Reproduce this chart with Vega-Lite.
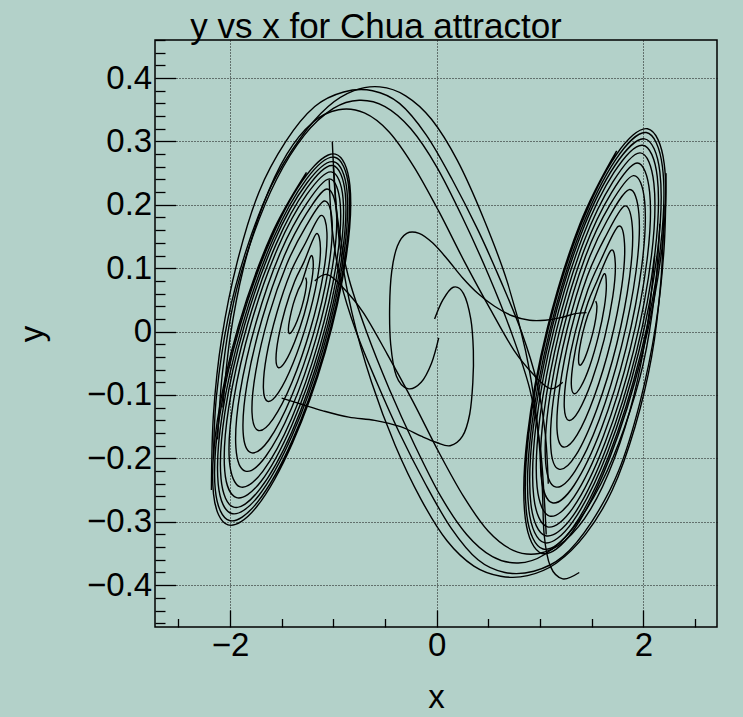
{
"$schema": "https://vega.github.io/schema/vega-lite/v6.json",
"width": 562, "height": 587,
"autosize": {"type": "none"},
"padding": {"left": 155, "top": 40, "right": 26, "bottom": 90},
"background": "#b3d1c9",
"title": {"text": "y vs x for Chua attractor", "font": "Liberation Sans", "fontSize": 35, "fontWeight": "normal", "color": "#000", "anchor": "middle", "baseline": "alphabetic", "offset": -49, "dx": -60},
"config": {"view": {"stroke": "#000", "strokeWidth": 1.5}},
"datasets": {"pts": [
{"s":"L","i":0,"x":-1.269,"y":0.085},{"s":"L","i":1,"x":-1.259,"y":0.078},{"s":"L","i":2,"x":-1.272,"y":0.061},{"s":"L","i":3,"x":-1.305,"y":0.039},{"s":"L","i":4,"x":-1.35,"y":0.017},{"s":"L","i":5,"x":-1.394,"y":0.002},{"s":"L","i":6,"x":-1.425,"y":-0.003},{"s":"L","i":7,"x":-1.435,"y":0.004},{"s":"L","i":8,"x":-1.422,"y":0.02},{"s":"L","i":9,"x":-1.389,"y":0.043},{"s":"L","i":10,"x":-1.344,"y":0.064},{"s":"L","i":11,"x":-1.3,"y":0.08},
{"s":"L","i":12,"x":-1.218,"y":0.119},{"s":"L","i":13,"x":-1.194,"y":0.105},{"s":"L","i":14,"x":-1.218,"y":0.072},{"s":"L","i":15,"x":-1.283,"y":0.027},{"s":"L","i":16,"x":-1.374,"y":-0.016},{"s":"L","i":17,"x":-1.464,"y":-0.047},{"s":"L","i":18,"x":-1.53,"y":-0.057},{"s":"L","i":19,"x":-1.555,"y":-0.043},{"s":"L","i":20,"x":-1.531,"y":-0.009},{"s":"L","i":21,"x":-1.465,"y":0.036},{"s":"L","i":22,"x":-1.375,"y":0.079},{"s":"L","i":23,"x":-1.284,"y":0.11},
{"s":"L","i":24,"x":-1.167,"y":0.154},{"s":"L","i":25,"x":-1.125,"y":0.132},{"s":"L","i":26,"x":-1.156,"y":0.082},{"s":"L","i":27,"x":-1.254,"y":0.015},{"s":"L","i":28,"x":-1.39,"y":-0.05},{"s":"L","i":29,"x":-1.53,"y":-0.096},{"s":"L","i":30,"x":-1.635,"y":-0.11},{"s":"L","i":31,"x":-1.677,"y":-0.089},{"s":"L","i":32,"x":-1.646,"y":-0.038},{"s":"L","i":33,"x":-1.548,"y":0.029},{"s":"L","i":34,"x":-1.412,"y":0.094},{"s":"L","i":35,"x":-1.272,"y":0.139},
{"s":"L","i":36,"x":-1.123,"y":0.183},{"s":"L","i":37,"x":-1.062,"y":0.156},{"s":"L","i":38,"x":-1.098,"y":0.09},{"s":"L","i":39,"x":-1.222,"y":0.004},{"s":"L","i":40,"x":-1.4,"y":-0.08},{"s":"L","i":41,"x":-1.584,"y":-0.138},{"s":"L","i":42,"x":-1.726,"y":-0.156},{"s":"L","i":43,"x":-1.787,"y":-0.128},{"s":"L","i":44,"x":-1.751,"y":-0.063},{"s":"L","i":45,"x":-1.627,"y":0.024},{"s":"L","i":46,"x":-1.449,"y":0.107},{"s":"L","i":47,"x":-1.265,"y":0.166},
{"s":"L","i":48,"x":-1.089,"y":0.206},{"s":"L","i":49,"x":-1.012,"y":0.174},{"s":"L","i":50,"x":-1.05,"y":0.097},{"s":"L","i":51,"x":-1.193,"y":-0.004},{"s":"L","i":52,"x":-1.404,"y":-0.102},{"s":"L","i":53,"x":-1.624,"y":-0.171},{"s":"L","i":54,"x":-1.796,"y":-0.191},{"s":"L","i":55,"x":-1.873,"y":-0.159},{"s":"L","i":56,"x":-1.835,"y":-0.082},{"s":"L","i":57,"x":-1.691,"y":0.019},{"s":"L","i":58,"x":-1.481,"y":0.117},{"s":"L","i":59,"x":-1.261,"y":0.186},
{"s":"L","i":60,"x":-1.062,"y":0.225},{"s":"L","i":61,"x":-0.97,"y":0.188},{"s":"L","i":62,"x":-1.009,"y":0.102},{"s":"L","i":63,"x":-1.168,"y":-0.011},{"s":"L","i":64,"x":-1.405,"y":-0.121},{"s":"L","i":65,"x":-1.655,"y":-0.197},{"s":"L","i":66,"x":-1.852,"y":-0.22},{"s":"L","i":67,"x":-1.943,"y":-0.183},{"s":"L","i":68,"x":-1.904,"y":-0.097},{"s":"L","i":69,"x":-1.745,"y":0.016},{"s":"L","i":70,"x":-1.509,"y":0.126},{"s":"L","i":71,"x":-1.259,"y":0.202},
{"s":"L","i":72,"x":-1.038,"y":0.241},{"s":"L","i":73,"x":-0.933,"y":0.201},{"s":"L","i":74,"x":-0.972,"y":0.106},{"s":"L","i":75,"x":-1.145,"y":-0.017},{"s":"L","i":76,"x":-1.404,"y":-0.137},{"s":"L","i":77,"x":-1.681,"y":-0.22},{"s":"L","i":78,"x":-1.901,"y":-0.245},{"s":"L","i":79,"x":-2.006,"y":-0.204},{"s":"L","i":80,"x":-1.967,"y":-0.11},{"s":"L","i":81,"x":-1.794,"y":0.014},{"s":"L","i":82,"x":-1.535,"y":0.133},{"s":"L","i":83,"x":-1.258,"y":0.216},
{"s":"L","i":84,"x":-1.021,"y":0.252},{"s":"L","i":85,"x":-0.906,"y":0.21},{"s":"L","i":86,"x":-0.945,"y":0.109},{"s":"L","i":87,"x":-1.127,"y":-0.022},{"s":"L","i":88,"x":-1.403,"y":-0.148},{"s":"L","i":89,"x":-1.699,"y":-0.236},{"s":"L","i":90,"x":-1.936,"y":-0.262},{"s":"L","i":91,"x":-2.051,"y":-0.22},{"s":"L","i":92,"x":-2.012,"y":-0.119},{"s":"L","i":93,"x":-1.83,"y":0.012},{"s":"L","i":94,"x":-1.554,"y":0.138},{"s":"L","i":95,"x":-1.258,"y":0.226},
{"s":"L","i":96,"x":-1.007,"y":0.262},{"s":"L","i":97,"x":-0.884,"y":0.217},{"s":"L","i":98,"x":-0.923,"y":0.112},{"s":"L","i":99,"x":-1.112,"y":-0.025},{"s":"L","i":100,"x":-1.401,"y":-0.158},{"s":"L","i":101,"x":-1.713,"y":-0.249},{"s":"L","i":102,"x":-1.964,"y":-0.277},{"s":"L","i":103,"x":-2.087,"y":-0.232},{"s":"L","i":104,"x":-2.049,"y":-0.127},{"s":"L","i":105,"x":-1.86,"y":0.01},{"s":"L","i":106,"x":-1.57,"y":0.143},{"s":"L","i":107,"x":-1.258,"y":0.234},
{"s":"L","i":108,"x":-0.997,"y":0.268},{"s":"L","i":109,"x":-0.868,"y":0.222},{"s":"L","i":110,"x":-0.905,"y":0.114},{"s":"L","i":111,"x":-1.1,"y":-0.028},{"s":"L","i":112,"x":-1.399,"y":-0.164},{"s":"L","i":113,"x":-1.723,"y":-0.259},{"s":"L","i":114,"x":-1.985,"y":-0.287},{"s":"L","i":115,"x":-2.114,"y":-0.241},{"s":"L","i":116,"x":-2.077,"y":-0.132},{"s":"L","i":117,"x":-1.882,"y":0.009},{"s":"L","i":118,"x":-1.583,"y":0.146},{"s":"L","i":119,"x":-1.259,"y":0.241},
{"s":"L","i":120,"x":-0.987,"y":0.275},{"s":"L","i":121,"x":-0.851,"y":0.227},{"s":"L","i":122,"x":-0.888,"y":0.115},{"s":"L","i":123,"x":-1.088,"y":-0.031},{"s":"L","i":124,"x":-1.398,"y":-0.172},{"s":"L","i":125,"x":-1.734,"y":-0.269},{"s":"L","i":126,"x":-2.006,"y":-0.298},{"s":"L","i":127,"x":-2.142,"y":-0.25},{"s":"L","i":128,"x":-2.105,"y":-0.138},{"s":"L","i":129,"x":-1.905,"y":0.008},{"s":"L","i":130,"x":-1.595,"y":0.149},{"s":"L","i":131,"x":-1.259,"y":0.247},
{"s":"L","i":132,"x":-0.98,"y":0.28},{"s":"L","i":133,"x":-0.84,"y":0.231},{"s":"L","i":134,"x":-0.876,"y":0.117},{"s":"L","i":135,"x":-1.08,"y":-0.033},{"s":"L","i":136,"x":-1.396,"y":-0.176},{"s":"L","i":137,"x":-1.74,"y":-0.276},{"s":"L","i":138,"x":-2.02,"y":-0.305},{"s":"L","i":139,"x":-2.16,"y":-0.256},{"s":"L","i":140,"x":-2.124,"y":-0.142},{"s":"L","i":141,"x":-1.92,"y":0.008},{"s":"L","i":142,"x":-1.604,"y":0.151},{"s":"L","i":143,"x":-1.26,"y":0.251},
{"s":"R","i":0,"x":1.539,"y":0.048},{"s":"R","i":1,"x":1.551,"y":0.04},{"s":"R","i":2,"x":1.54,"y":0.021},{"s":"R","i":3,"x":1.508,"y":-0.004},{"s":"R","i":4,"x":1.463,"y":-0.029},{"s":"R","i":5,"x":1.419,"y":-0.047},{"s":"R","i":6,"x":1.386,"y":-0.053},{"s":"R","i":7,"x":1.373,"y":-0.045},{"s":"R","i":8,"x":1.384,"y":-0.026},{"s":"R","i":9,"x":1.417,"y":0.0},{"s":"R","i":10,"x":1.461,"y":0.025},{"s":"R","i":11,"x":1.505,"y":0.042},
{"s":"R","i":12,"x":1.615,"y":0.09},{"s":"R","i":13,"x":1.642,"y":0.075},{"s":"R","i":14,"x":1.623,"y":0.039},{"s":"R","i":15,"x":1.564,"y":-0.008},{"s":"R","i":16,"x":1.48,"y":-0.055},{"s":"R","i":17,"x":1.395,"y":-0.087},{"s":"R","i":18,"x":1.33,"y":-0.098},{"s":"R","i":19,"x":1.303,"y":-0.083},{"s":"R","i":20,"x":1.322,"y":-0.048},{"s":"R","i":21,"x":1.381,"y":0.0},{"s":"R","i":22,"x":1.464,"y":0.046},{"s":"R","i":23,"x":1.55,"y":0.079},
{"s":"R","i":24,"x":1.686,"y":0.128},{"s":"R","i":25,"x":1.729,"y":0.107},{"s":"R","i":26,"x":1.705,"y":0.056},{"s":"R","i":27,"x":1.622,"y":-0.012},{"s":"R","i":28,"x":1.501,"y":-0.078},{"s":"R","i":29,"x":1.375,"y":-0.125},{"s":"R","i":30,"x":1.278,"y":-0.14},{"s":"R","i":31,"x":1.235,"y":-0.119},{"s":"R","i":32,"x":1.259,"y":-0.068},{"s":"R","i":33,"x":1.342,"y":0.0},{"s":"R","i":34,"x":1.463,"y":0.066},{"s":"R","i":35,"x":1.589,"y":0.113},
{"s":"R","i":36,"x":1.757,"y":0.166},{"s":"R","i":37,"x":1.818,"y":0.139},{"s":"R","i":38,"x":1.792,"y":0.072},{"s":"R","i":39,"x":1.685,"y":-0.016},{"s":"R","i":40,"x":1.526,"y":-0.102},{"s":"R","i":41,"x":1.359,"y":-0.163},{"s":"R","i":42,"x":1.226,"y":-0.182},{"s":"R","i":43,"x":1.165,"y":-0.155},{"s":"R","i":44,"x":1.192,"y":-0.088},{"s":"R","i":45,"x":1.298,"y":0.001},{"s":"R","i":46,"x":1.457,"y":0.087},{"s":"R","i":47,"x":1.625,"y":0.147},
{"s":"R","i":48,"x":1.816,"y":0.198},{"s":"R","i":49,"x":1.894,"y":0.165},{"s":"R","i":50,"x":1.867,"y":0.086},{"s":"R","i":51,"x":1.742,"y":-0.02},{"s":"R","i":52,"x":1.551,"y":-0.122},{"s":"R","i":53,"x":1.347,"y":-0.195},{"s":"R","i":54,"x":1.183,"y":-0.217},{"s":"R","i":55,"x":1.105,"y":-0.184},{"s":"R","i":56,"x":1.132,"y":-0.104},{"s":"R","i":57,"x":1.258,"y":0.001},{"s":"R","i":58,"x":1.448,"y":0.104},{"s":"R","i":59,"x":1.652,"y":0.176},
{"s":"R","i":60,"x":1.863,"y":0.224},{"s":"R","i":61,"x":1.957,"y":0.186},{"s":"R","i":62,"x":1.93,"y":0.096},{"s":"R","i":63,"x":1.789,"y":-0.023},{"s":"R","i":64,"x":1.573,"y":-0.139},{"s":"R","i":65,"x":1.339,"y":-0.22},{"s":"R","i":66,"x":1.149,"y":-0.245},{"s":"R","i":67,"x":1.055,"y":-0.207},{"s":"R","i":68,"x":1.082,"y":-0.117},{"s":"R","i":69,"x":1.223,"y":0.002},{"s":"R","i":70,"x":1.439,"y":0.118},{"s":"R","i":71,"x":1.674,"y":0.199},
{"s":"R","i":72,"x":1.904,"y":0.246},{"s":"R","i":73,"x":2.013,"y":0.205},{"s":"R","i":74,"x":1.986,"y":0.105},{"s":"R","i":75,"x":1.833,"y":-0.026},{"s":"R","i":76,"x":1.594,"y":-0.153},{"s":"R","i":77,"x":1.332,"y":-0.242},{"s":"R","i":78,"x":1.119,"y":-0.27},{"s":"R","i":79,"x":1.011,"y":-0.228},{"s":"R","i":80,"x":1.037,"y":-0.129},{"s":"R","i":81,"x":1.19,"y":0.002},{"s":"R","i":82,"x":1.43,"y":0.13},{"s":"R","i":83,"x":1.691,"y":0.219},
{"s":"R","i":84,"x":1.94,"y":0.266},{"s":"R","i":85,"x":2.061,"y":0.22},{"s":"R","i":86,"x":2.036,"y":0.113},{"s":"R","i":87,"x":1.872,"y":-0.028},{"s":"R","i":88,"x":1.613,"y":-0.165},{"s":"R","i":89,"x":1.328,"y":-0.261},{"s":"R","i":90,"x":1.093,"y":-0.291},{"s":"R","i":91,"x":0.972,"y":-0.245},{"s":"R","i":92,"x":0.997,"y":-0.138},{"s":"R","i":93,"x":1.161,"y":0.003},{"s":"R","i":94,"x":1.42,"y":0.14},{"s":"R","i":95,"x":1.705,"y":0.236},
{"s":"R","i":96,"x":1.969,"y":0.282},{"s":"R","i":97,"x":2.102,"y":0.234},{"s":"R","i":98,"x":2.079,"y":0.12},{"s":"R","i":99,"x":1.906,"y":-0.03},{"s":"R","i":100,"x":1.63,"y":-0.175},{"s":"R","i":101,"x":1.324,"y":-0.277},{"s":"R","i":102,"x":1.072,"y":-0.308},{"s":"R","i":103,"x":0.939,"y":-0.26},{"s":"R","i":104,"x":0.962,"y":-0.146},{"s":"R","i":105,"x":1.135,"y":0.004},{"s":"R","i":106,"x":1.411,"y":0.149},{"s":"R","i":107,"x":1.716,"y":0.251},
{"s":"R","i":108,"x":1.993,"y":0.294},{"s":"R","i":109,"x":2.135,"y":0.244},{"s":"R","i":110,"x":2.113,"y":0.125},{"s":"R","i":111,"x":1.933,"y":-0.032},{"s":"R","i":112,"x":1.644,"y":-0.183},{"s":"R","i":113,"x":1.322,"y":-0.29},{"s":"R","i":114,"x":1.054,"y":-0.322},{"s":"R","i":115,"x":0.912,"y":-0.272},{"s":"R","i":116,"x":0.934,"y":-0.153},{"s":"R","i":117,"x":1.114,"y":0.004},{"s":"R","i":118,"x":1.403,"y":0.156},{"s":"R","i":119,"x":1.725,"y":0.262},
{"s":"R","i":120,"x":2.011,"y":0.304},{"s":"R","i":121,"x":2.16,"y":0.252},{"s":"R","i":122,"x":2.139,"y":0.129},{"s":"R","i":123,"x":1.954,"y":-0.033},{"s":"R","i":124,"x":1.655,"y":-0.19},{"s":"R","i":125,"x":1.321,"y":-0.299},{"s":"R","i":126,"x":1.042,"y":-0.333},{"s":"R","i":127,"x":0.892,"y":-0.281},{"s":"R","i":128,"x":0.913,"y":-0.157},{"s":"R","i":129,"x":1.098,"y":0.004},{"s":"R","i":130,"x":1.397,"y":0.161},{"s":"R","i":131,"x":1.731,"y":0.271},
{"s":"R","i":132,"x":2.028,"y":0.314},{"s":"R","i":133,"x":2.185,"y":0.26},{"s":"R","i":134,"x":2.166,"y":0.133},{"s":"R","i":135,"x":1.976,"y":-0.034},{"s":"R","i":136,"x":1.666,"y":-0.196},{"s":"R","i":137,"x":1.319,"y":-0.309},{"s":"R","i":138,"x":1.029,"y":-0.343},{"s":"R","i":139,"x":0.872,"y":-0.289},{"s":"R","i":140,"x":0.891,"y":-0.162},{"s":"R","i":141,"x":1.081,"y":0.005},{"s":"R","i":142,"x":1.391,"y":0.166},{"s":"R","i":143,"x":1.738,"y":0.279},
{"s":"R","i":144,"x":2.04,"y":0.32},{"s":"R","i":145,"x":2.202,"y":0.265},{"s":"R","i":146,"x":2.183,"y":0.135},{"s":"R","i":147,"x":1.99,"y":-0.035},{"s":"R","i":148,"x":1.673,"y":-0.2},{"s":"R","i":149,"x":1.318,"y":-0.315},{"s":"R","i":150,"x":1.02,"y":-0.35},{"s":"R","i":151,"x":0.858,"y":-0.295},{"s":"R","i":152,"x":0.877,"y":-0.165},{"s":"R","i":153,"x":1.07,"y":0.005},{"s":"R","i":154,"x":1.387,"y":0.17},{"s":"R","i":155,"x":1.742,"y":0.285},
{"s":"C1","i":0,"x":-0.02,"y":0.02},{"s":"C1","i":1,"x":0.06,"y":0.05},{"s":"C1","i":2,"x":0.16,"y":0.07},{"s":"C1","i":3,"x":0.26,"y":0.06},{"s":"C1","i":4,"x":0.33,"y":0.02},{"s":"C1","i":5,"x":0.355,"y":-0.03},{"s":"C1","i":6,"x":0.35,"y":-0.08},{"s":"C1","i":7,"x":0.32,"y":-0.13},{"s":"C1","i":8,"x":0.25,"y":-0.165},{"s":"C1","i":9,"x":0.13,"y":-0.18},{"s":"C1","i":10,"x":0.0,"y":-0.175},{"s":"C1","i":11,"x":-0.15,"y":-0.165},{"s":"C1","i":12,"x":-0.35,"y":-0.15},{"s":"C1","i":13,"x":-0.6,"y":-0.14},{"s":"C1","i":14,"x":-0.85,"y":-0.135},{"s":"C1","i":15,"x":-1.1,"y":-0.125},{"s":"C1","i":16,"x":-1.3,"y":-0.115},{"s":"C1","i":17,"x":-1.5,"y":-0.105},
{"s":"C2","i":0,"x":0.02,"y":-0.01},{"s":"C2","i":1,"x":-0.05,"y":-0.05},{"s":"C2","i":2,"x":-0.15,"y":-0.08},{"s":"C2","i":3,"x":-0.28,"y":-0.09},{"s":"C2","i":4,"x":-0.39,"y":-0.07},{"s":"C2","i":5,"x":-0.445,"y":-0.02},{"s":"C2","i":6,"x":-0.455,"y":0.04},{"s":"C2","i":7,"x":-0.435,"y":0.095},{"s":"C2","i":8,"x":-0.38,"y":0.135},{"s":"C2","i":9,"x":-0.29,"y":0.155},{"s":"C2","i":10,"x":-0.17,"y":0.155},{"s":"C2","i":11,"x":-0.04,"y":0.14},{"s":"C2","i":12,"x":0.1,"y":0.115},{"s":"C2","i":13,"x":0.25,"y":0.085},{"s":"C2","i":14,"x":0.4,"y":0.06},{"s":"C2","i":15,"x":0.56,"y":0.04},{"s":"C2","i":16,"x":0.73,"y":0.025},{"s":"C2","i":17,"x":0.9,"y":0.018},{"s":"C2","i":18,"x":1.05,"y":0.018},{"s":"C2","i":19,"x":1.2,"y":0.022},{"s":"C2","i":20,"x":1.33,"y":0.028},{"s":"C2","i":21,"x":1.45,"y":0.03},
{"s":"D1","i":0,"x":-2.16,"y":-0.2},{"s":"D1","i":1,"x":-2.13,"y":-0.1},{"s":"D1","i":2,"x":-2.02,"y":0.02},{"s":"D1","i":3,"x":-1.84,"y":0.13},{"s":"D1","i":4,"x":-1.6,"y":0.23},{"s":"D1","i":5,"x":-1.32,"y":0.305},{"s":"D1","i":6,"x":-1.05,"y":0.355},{"s":"D1","i":7,"x":-0.8,"y":0.38},{"s":"D1","i":8,"x":-0.55,"y":0.386},{"s":"D1","i":9,"x":-0.3,"y":0.372},{"s":"D1","i":10,"x":-0.05,"y":0.335},{"s":"D1","i":11,"x":0.2,"y":0.27},{"s":"D1","i":12,"x":0.45,"y":0.18},{"s":"D1","i":13,"x":0.68,"y":0.08},{"s":"D1","i":14,"x":0.86,"y":-0.03},{"s":"D1","i":15,"x":0.97,"y":-0.14},{"s":"D1","i":16,"x":1.02,"y":-0.24},{"s":"D1","i":17,"x":1.04,"y":-0.32},{"s":"D1","i":18,"x":1.1,"y":-0.37},{"s":"D1","i":19,"x":1.22,"y":-0.39},{"s":"D1","i":20,"x":1.38,"y":-0.38},
{"s":"D2","i":0,"x":-2.12,"y":-0.17},{"s":"D2","i":1,"x":-2.07,"y":-0.06},{"s":"D2","i":2,"x":-1.96,"y":0.05},{"s":"D2","i":3,"x":-1.78,"y":0.15},{"s":"D2","i":4,"x":-1.55,"y":0.24},{"s":"D2","i":5,"x":-1.28,"y":0.31},{"s":"D2","i":6,"x":-1.0,"y":0.352},{"s":"D2","i":7,"x":-0.75,"y":0.365},{"s":"D2","i":8,"x":-0.5,"y":0.355},{"s":"D2","i":9,"x":-0.25,"y":0.32},{"s":"D2","i":10,"x":0.0,"y":0.26},{"s":"D2","i":11,"x":0.25,"y":0.18},{"s":"D2","i":12,"x":0.5,"y":0.09},{"s":"D2","i":13,"x":0.72,"y":0.0},{"s":"D2","i":14,"x":0.9,"y":-0.09},{"s":"D2","i":15,"x":1.0,"y":-0.18},{"s":"D2","i":16,"x":1.04,"y":-0.26},{"s":"D2","i":17,"x":1.06,"y":-0.32},
{"s":"D3","i":0,"x":-2.07,"y":-0.12},{"s":"D3","i":1,"x":-2.0,"y":-0.01},{"s":"D3","i":2,"x":-1.87,"y":0.1},{"s":"D3","i":3,"x":-1.68,"y":0.2},{"s":"D3","i":4,"x":-1.45,"y":0.28},{"s":"D3","i":5,"x":-1.2,"y":0.33},{"s":"D3","i":6,"x":-0.95,"y":0.35},{"s":"D3","i":7,"x":-0.7,"y":0.345},{"s":"D3","i":8,"x":-0.46,"y":0.315},{"s":"D3","i":9,"x":-0.22,"y":0.26},{"s":"D3","i":10,"x":0.02,"y":0.19},{"s":"D3","i":11,"x":0.27,"y":0.11},{"s":"D3","i":12,"x":0.52,"y":0.035},{"s":"D3","i":13,"x":0.75,"y":-0.03},{"s":"D3","i":14,"x":0.95,"y":-0.07},{"s":"D3","i":15,"x":1.1,"y":-0.09},{"s":"D3","i":16,"x":1.22,"y":-0.08},
{"s":"D4","i":0,"x":-2.18,"y":-0.25},{"s":"D4","i":1,"x":-2.16,"y":-0.13},{"s":"D4","i":2,"x":-2.08,"y":-0.01},{"s":"D4","i":3,"x":-1.93,"y":0.11},{"s":"D4","i":4,"x":-1.72,"y":0.22},{"s":"D4","i":5,"x":-1.46,"y":0.3},{"s":"D4","i":6,"x":-1.18,"y":0.355},{"s":"D4","i":7,"x":-0.9,"y":0.378},{"s":"D4","i":8,"x":-0.62,"y":0.38},{"s":"D4","i":9,"x":-0.36,"y":0.36},{"s":"D4","i":10,"x":-0.1,"y":0.31},{"s":"D4","i":11,"x":0.15,"y":0.24},{"s":"D4","i":12,"x":0.4,"y":0.16},{"s":"D4","i":13,"x":0.62,"y":0.08},{"s":"D4","i":14,"x":0.82,"y":0.0},{"s":"D4","i":15,"x":0.97,"y":-0.08},{"s":"D4","i":16,"x":1.05,"y":-0.16},{"s":"D4","i":17,"x":1.08,"y":-0.24},
{"s":"U1","i":0,"x":2.2,"y":0.2},{"s":"U1","i":1,"x":2.17,"y":0.08},{"s":"U1","i":2,"x":2.08,"y":-0.04},{"s":"U1","i":3,"x":1.92,"y":-0.15},{"s":"U1","i":4,"x":1.7,"y":-0.25},{"s":"U1","i":5,"x":1.44,"y":-0.32},{"s":"U1","i":6,"x":1.16,"y":-0.365},{"s":"U1","i":7,"x":0.88,"y":-0.385},{"s":"U1","i":8,"x":0.62,"y":-0.386},{"s":"U1","i":9,"x":0.36,"y":-0.37},{"s":"U1","i":10,"x":0.1,"y":-0.33},{"s":"U1","i":11,"x":-0.15,"y":-0.265},{"s":"U1","i":12,"x":-0.4,"y":-0.18},{"s":"U1","i":13,"x":-0.63,"y":-0.08},{"s":"U1","i":14,"x":-0.82,"y":0.03},{"s":"U1","i":15,"x":-0.94,"y":0.14},{"s":"U1","i":16,"x":-0.99,"y":0.24},{"s":"U1","i":17,"x":-1.01,"y":0.3},
{"s":"U2","i":0,"x":2.16,"y":0.17},{"s":"U2","i":1,"x":2.11,"y":0.06},{"s":"U2","i":2,"x":2.0,"y":-0.05},{"s":"U2","i":3,"x":1.82,"y":-0.15},{"s":"U2","i":4,"x":1.59,"y":-0.24},{"s":"U2","i":5,"x":1.32,"y":-0.31},{"s":"U2","i":6,"x":1.04,"y":-0.352},{"s":"U2","i":7,"x":0.79,"y":-0.365},{"s":"U2","i":8,"x":0.54,"y":-0.355},{"s":"U2","i":9,"x":0.29,"y":-0.32},{"s":"U2","i":10,"x":0.04,"y":-0.26},{"s":"U2","i":11,"x":-0.21,"y":-0.18},{"s":"U2","i":12,"x":-0.46,"y":-0.09},{"s":"U2","i":13,"x":-0.68,"y":0.0},{"s":"U2","i":14,"x":-0.86,"y":0.09},{"s":"U2","i":15,"x":-0.96,"y":0.18},{"s":"U2","i":16,"x":-1.0,"y":0.26},
{"s":"U3","i":0,"x":2.11,"y":0.12},{"s":"U3","i":1,"x":2.04,"y":0.01},{"s":"U3","i":2,"x":1.91,"y":-0.1},{"s":"U3","i":3,"x":1.72,"y":-0.2},{"s":"U3","i":4,"x":1.49,"y":-0.28},{"s":"U3","i":5,"x":1.24,"y":-0.33},{"s":"U3","i":6,"x":0.99,"y":-0.35},{"s":"U3","i":7,"x":0.74,"y":-0.345},{"s":"U3","i":8,"x":0.5,"y":-0.315},{"s":"U3","i":9,"x":0.26,"y":-0.26},{"s":"U3","i":10,"x":0.02,"y":-0.19},{"s":"U3","i":11,"x":-0.23,"y":-0.11},{"s":"U3","i":12,"x":-0.48,"y":-0.035},{"s":"U3","i":13,"x":-0.71,"y":0.03},{"s":"U3","i":14,"x":-0.91,"y":0.07},{"s":"U3","i":15,"x":-1.06,"y":0.09},{"s":"U3","i":16,"x":-1.18,"y":0.08},
{"s":"U4","i":0,"x":2.22,"y":0.25},{"s":"U4","i":1,"x":2.2,"y":0.13},{"s":"U4","i":2,"x":2.12,"y":0.01},{"s":"U4","i":3,"x":1.97,"y":-0.11},{"s":"U4","i":4,"x":1.76,"y":-0.22},{"s":"U4","i":5,"x":1.5,"y":-0.3},{"s":"U4","i":6,"x":1.22,"y":-0.355},{"s":"U4","i":7,"x":0.94,"y":-0.378},{"s":"U4","i":8,"x":0.66,"y":-0.38},{"s":"U4","i":9,"x":0.4,"y":-0.36},{"s":"U4","i":10,"x":0.14,"y":-0.31},{"s":"U4","i":11,"x":-0.11,"y":-0.24},{"s":"U4","i":12,"x":-0.36,"y":-0.16},{"s":"U4","i":13,"x":-0.58,"y":-0.08},{"s":"U4","i":14,"x":-0.78,"y":0.0},{"s":"U4","i":15,"x":-0.93,"y":0.08},{"s":"U4","i":16,"x":-1.01,"y":0.16},{"s":"U4","i":17,"x":-1.04,"y":0.24}
]},
"data": {"name": "pts"},
"mark": {"type": "line", "interpolate": "cardinal", "color": "#000", "strokeWidth": 1.4, "clip": true},
"encoding": {
"x": {"field": "x", "type": "quantitative", "scale": {"domain": [-2.726, 2.713], "nice": false, "zero": false},
 "axis": {"values": [-2.5,-2,-1.5,-1,-0.5,0,0.5,1,1.5,2,2.5], "title": "x", "domain": false, "grid": true,
  "gridDash": [1,2], "gridColor": "#111", "gridWidth": 1,
  "gridOpacity": {"condition": {"test": "datum.value % 2 === 0", "value": 1}, "value": 0},
  "tickColor": "#000", "tickWidth": 1.3,
  "tickSize": {"condition": {"test": "datum.value % 2 === 0", "value": -17}, "value": -8.5},
  "labelExpr": "datum.value % 2 === 0 ? format(datum.value, '~g') : ''",
  "labelFont": "Liberation Sans", "labelFontSize": 33, "labelColor": "#000", "labelPadding": 19, "labelOverlap": false, "labelFlush": false,
  "titleFont": "Liberation Sans", "titleFontSize": 33, "titleFontWeight": "normal", "titleColor": "#000", "titleY": 80, "titleBaseline": "alphabetic"}},
"y": {"field": "y", "type": "quantitative", "scale": {"domain": [-0.466, 0.46], "nice": false, "zero": false},
 "axis": {"values": [-0.46,-0.44,-0.42,-0.4,-0.38,-0.36,-0.34,-0.32,-0.3,-0.28,-0.26,-0.24,-0.22,-0.2,-0.18,-0.16,-0.14,-0.12,-0.1,-0.08,-0.06,-0.04,-0.02,0,0.02,0.04,0.06,0.08,0.1,0.12,0.14,0.16,0.18,0.2,0.22,0.24,0.26,0.28,0.3,0.32,0.34,0.36,0.38,0.4,0.42,0.44,0.46],
  "title": "y", "domain": false, "grid": true,
  "gridDash": [1,2], "gridColor": "#111", "gridWidth": 1,
  "gridOpacity": {"condition": {"test": "abs(datum.value*10 - round(datum.value*10)) < 0.001", "value": 1}, "value": 0},
  "tickColor": "#000", "tickWidth": 1.3,
  "tickSize": {"condition": {"test": "abs(datum.value*10 - round(datum.value*10)) < 0.001", "value": -20.7}, "value": -10},
  "labelExpr": "abs(datum.value*10 - round(datum.value*10)) < 0.001 ? format(datum.value, '~g') : ''",
  "labelFont": "Liberation Sans", "labelFontSize": 33, "labelColor": "#000", "labelPadding": 24, "labelOverlap": false, "labelFlush": false,
  "titleFont": "Liberation Sans", "titleFontSize": 33, "titleFontWeight": "normal", "titleColor": "#000", "titleX": -113, "titleBaseline": "alphabetic"}},
"detail": {"field": "s"},
"order": {"field": "i", "type": "quantitative"}
}
}
